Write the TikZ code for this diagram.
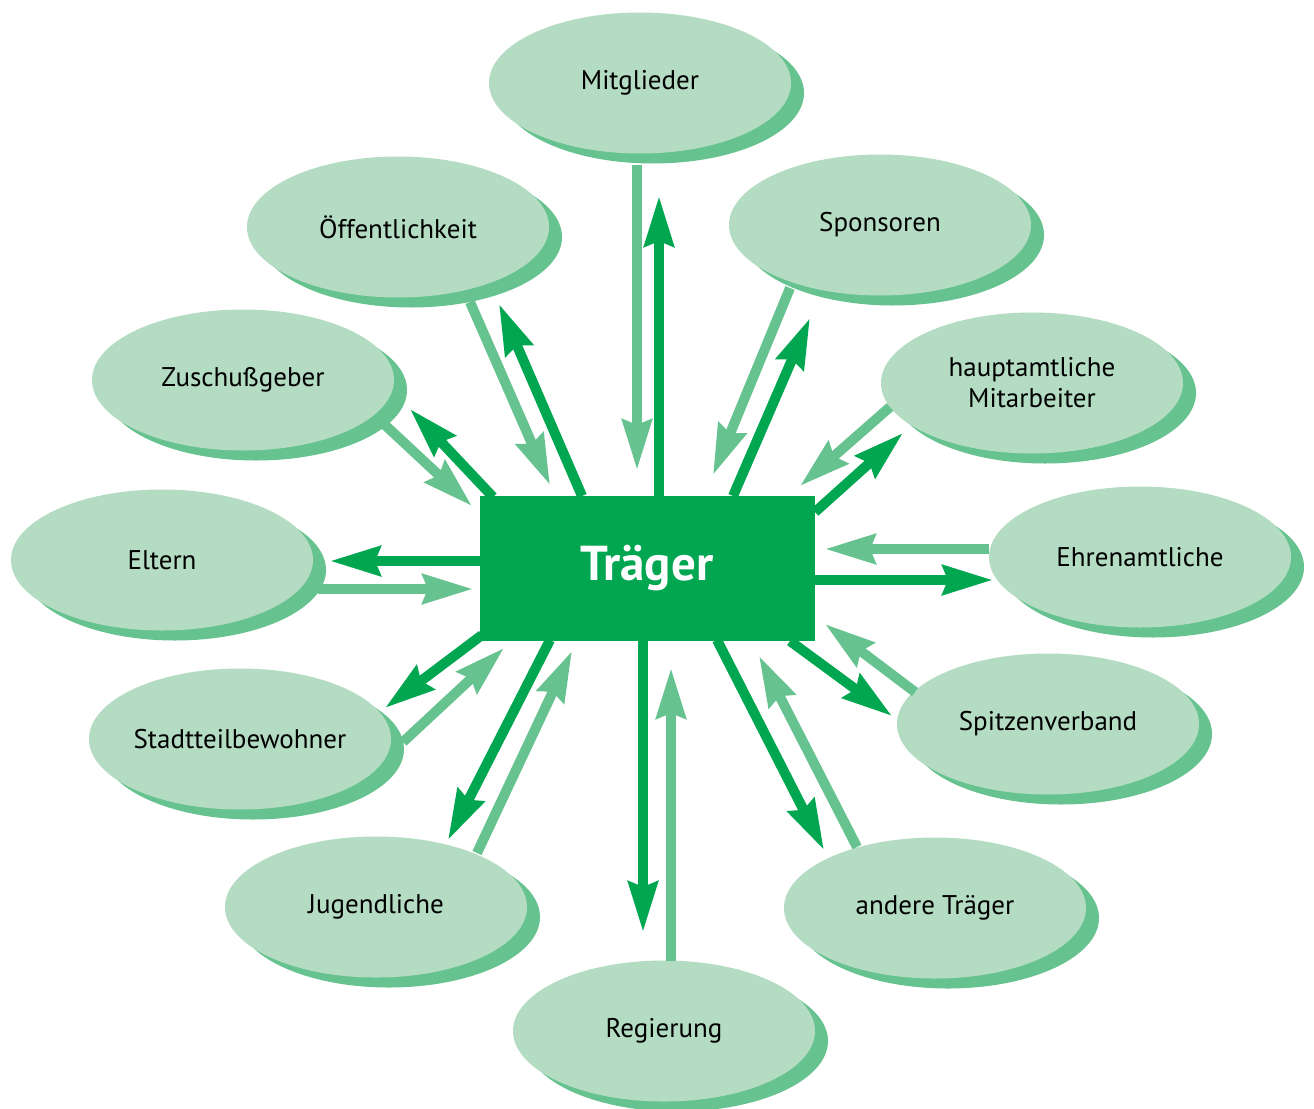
\documentclass[tikz,border=0pt]{standalone}
\usepackage{fontspec}
\setmainfont{PT Sans}
\usetikzlibrary{shapes.geometric,shadows,arrows.meta,calc}
\definecolor{ovalfill}{HTML}{B3DCC2}
\definecolor{ovalshade}{HTML}{66C28E}
\definecolor{tgreen}{HTML}{00A650}

\begin{document}
\begin{tikzpicture}[x=1pt,y=-1pt,
	oval/.style={ellipse,fill=ovalfill,minimum width=302,minimum height=141,inner sep=0pt,align=center,
		font=\fontsize{27}{31}\selectfont,
		drop shadow={shadow xshift=13pt,shadow yshift=-10pt,fill=ovalshade,opacity=1}},
	outward/.style={tgreen,line width=10pt,-{Stealth[length=50pt,width=29pt,inset=5pt]}},
	inward/.style={ovalshade,line width=10pt,-{Stealth[length=50pt,width=29pt,inset=5pt]}}]
		\useasboundingbox (0,0) rectangle (1314,1108);
		% the bearer in the middle
		\node[rectangle,fill=tgreen,minimum width=335,minimum height=145,text=white,
			font=\fontsize{49}{56}\selectfont\bfseries] (traeger) at (647,568) {Träger};
		% partners round it
		\node[oval] (mitglieder) at (640,83) {Mitglieder};
		\node[oval] (oeffentlichkeit) at (398,227) {Öffentlichkeit};
		\node[oval] (sponsoren) at (880,225) {Sponsoren};
		\node[oval] (hauptamtliche) at (1032,383) {hauptamtliche\\Mitarbeiter};
		\node[oval] (zuschuss) at (243,380) {Zuschußgeber};
		\node[oval] (eltern) at (162,560) {Eltern};
		\node[oval] (ehrenamtliche) at (1140,557) {Ehrenamtliche};
		\node[oval] (spitzenverband) at (1048,724) {Spitzenverband};
		\node[oval] (stadtteil) at (240,739) {Stadtteilbewohner};
		\node[oval] (jugendliche) at (376,907) {Jugendliche};
		\node[oval] (andere) at (935,908) {andere Träger};
		\node[oval] (regierung) at (664,1031) {Regierung};
		% arrows in and out
		\draw[inward] ($(mitglieder)+(-3,82)$) -- ($(traeger)+(-10,-98)$);
		\draw[outward] ($(traeger)+(12,-72)$) -- ($(mitglieder)+(19,113)$);
		\draw[inward] ($(oeffentlichkeit)+(72,75)$) -- ($(traeger)+(-97,-83)$);
		\draw[outward] ($(traeger)+(-65,-72)$) -- ($(oeffentlichkeit)+(101,77)$);
		\draw[inward] ($(sponsoren)+(-90,63)$) -- ($(traeger)+(66,-93)$);
		\draw[outward] ($(traeger)+(86,-72)$) -- ($(sponsoren)+(-70,93)$);
		\draw[inward] ($(hauptamtliche)+(-142,24)$) -- ($(traeger)+(153,-82)$);
		\draw[outward] ($(traeger)+(168,-56)$) -- ($(hauptamtliche)+(-129,50)$);
		\draw[inward] ($(zuschuss)+(142,45)$) -- ($(traeger)+(-175,-62)$);
		\draw[outward] ($(traeger)+(-154,-71)$) -- ($(zuschuss)+(167,29)$);
		\draw[outward] ($(traeger)+(-165,-7)$) -- ($(eltern)+(168,1)$);
		\draw[inward] ($(eltern)+(156,29)$) -- ($(traeger)+(-174,21)$);
		\draw[inward] ($(ehrenamtliche)+(-151,-8)$) -- ($(traeger)+(178,-19)$);
		\draw[outward] ($(traeger)+(166,12)$) -- ($(ehrenamtliche)+(-147,23)$);
		\draw[inward] ($(spitzenverband)+(-133,-32)$) -- ($(traeger)+(178,56)$);
		\draw[outward] ($(traeger)+(143,73)$) -- ($(spitzenverband)+(-156,-8)$);
		\draw[outward] ($(traeger)+(-165,67)$) -- ($(stadtteil)+(145,-31)$);
		\draw[inward] ($(stadtteil)+(163,3)$) -- ($(traeger)+(-143,80)$);
		\draw[outward] ($(traeger)+(-97,72)$) -- ($(jugendliche)+(72,-67)$);
		\draw[inward] ($(jugendliche)+(101,-54)$) -- ($(traeger)+(-75,83)$);
		\draw[outward] ($(traeger)+(-4,72)$) -- ($(regierung)+(-21,-99)$);
		\draw[inward] ($(regierung)+(7,-70)$) -- ($(traeger)+(24,100)$);
		\draw[outward] ($(traeger)+(70,72)$) -- ($(andere)+(-111,-58)$);
		\draw[inward] ($(andere)+(-78,-61)$) -- ($(traeger)+(112,88)$);
\end{tikzpicture}
\end{document}
